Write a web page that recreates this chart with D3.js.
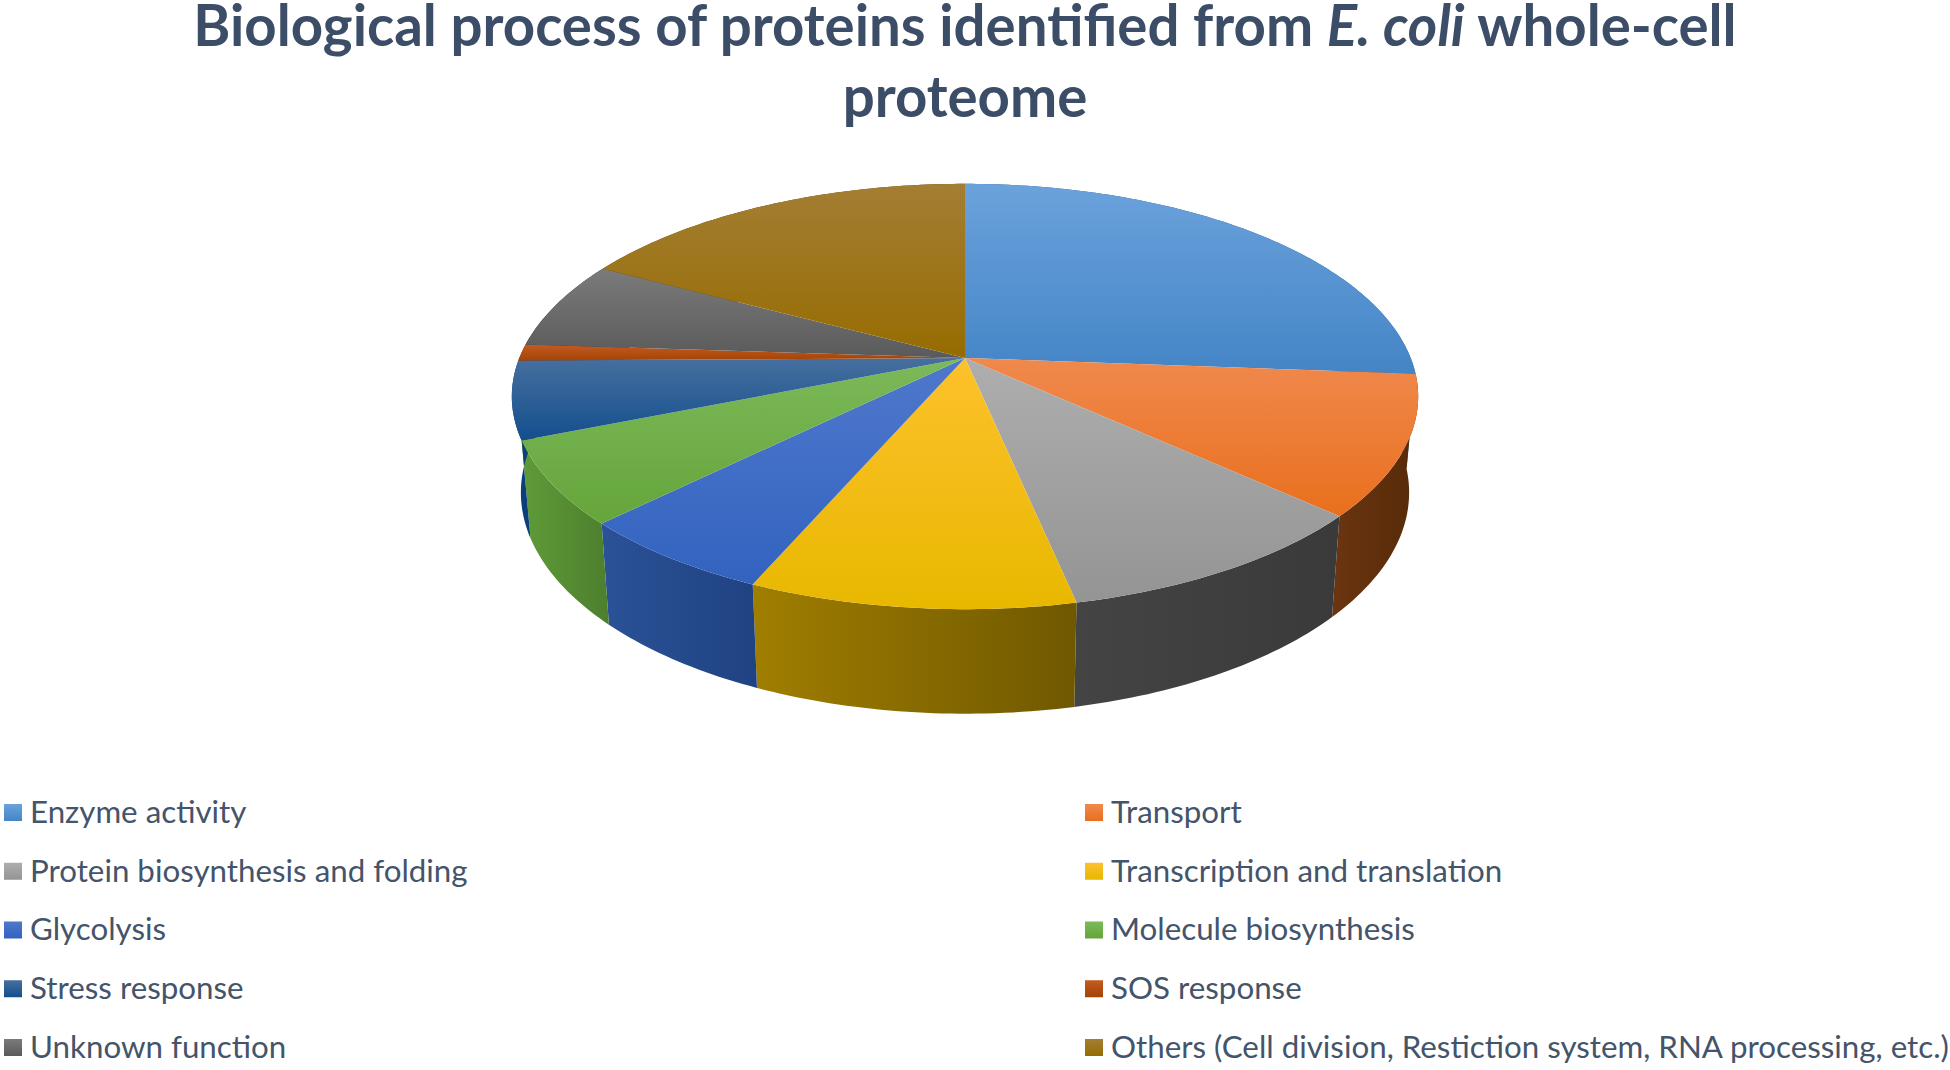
<!DOCTYPE html>
<meta charset="utf-8">
<style>
body { margin: 0; background: #fff; }
text { font-family: Lato, "Noto Sans", sans-serif; fill: #44546a; }
.title { font-size: 56.4px; font-weight: 700; text-anchor: middle; fill: #3c4d68; }
.legend text { font-size: 31.3px; }
</style>
<svg width="1950" height="1070"></svg>
<script src="https://d3js.org/d3.v7.min.js"></script>
<script>

// share of proteins per process (%)
var categories = ["Enzyme activity", "Transport", "Protein biosynthesis and folding",
  "Transcription and translation", "Glycolysis", "Molecule biosynthesis",
  "Stress response", "SOS response", "Unknown function",
  "Others (Cell division, Restiction system, RNA processing, etc.)"];
var values = [26.2, 10.6, 9.9, 9.8, 6.1, 6.3, 5.9, 1.25, 6.75, 17.2];

// top face gradients (light to dark) and side wall gradients (left to right)
var topLight = ["#6ba2dc", "#f0894d", "#aeaeae", "#fdc12c", "#4f78cc", "#7cb95a", "#466f9f", "#c55a22", "#7b7b7b", "#a47e34"];
var topDark = ["#4485c6", "#e96f1d", "#949494", "#e8b800", "#3263bf", "#65a53a", "#134f8d", "#a34406", "#5a5a5a", "#966c00"];
var wallLeft = ["#2a5a88", "#6b3510", "#444444", "#a07e00", "#2b5297", "#5f9b38", "#0a3f7a", "#6b2c04", "#3a3a3a", "#5f4500"];
var wallRight = ["#2a5a88", "#562a08", "#3a3a3a", "#705800", "#1f4282", "#4d7f2e", "#0a3f7a", "#6b2c04", "#3a3a3a", "#5f4500"];

var svg = d3.select("svg"),
    defs = svg.append("defs");

// pie seen in perspective: the disc centre sits above the middle of the ellipse
var cx = 965, cy = 358,
    radiusX = 445.7, radiusY = 205.7,
    persp = 0.181,
    depth = 94.5, depthSlope = 1.04, bottomScale = 0.98;

function topPoint(a) {
  var u = Math.sin(a), v = -Math.cos(a), w = 1 - persp * v;
  return [radiusX * u / w, radiusY * v / w];
}

function bottomPoint(a) {
  var p = topPoint(a);
  return [cx + p[0] * bottomScale, cy + depth + p[1] * depthSlope];
}

function arcAngles(d) {
  var n = Math.max(2, Math.ceil((d.endAngle - d.startAngle) * 60));
  return d3.range(n + 1).map(function(i) {
    return d.startAngle + (d.endAngle - d.startAngle) * i / n;
  });
}

var line = d3.line();

var pie = d3.pie().sort(null).value(function(d) { return d; });
var slices = pie(values);

function gradient(id, x2, y2, from, to) {
  var g = defs.append("linearGradient").attr("id", id)
      .attr("x1", 0).attr("y1", 0).attr("x2", x2).attr("y2", y2);
  g.append("stop").attr("offset", "0%").attr("stop-color", from);
  g.append("stop").attr("offset", "100%").attr("stop-color", to);
}

categories.forEach(function(c, i) {
  gradient("top" + i, 0, 1, topLight[i], topDark[i]);
  gradient("wall" + i, 1, 0, wallLeft[i], wallRight[i]);
});

// walls first, the top face covers whatever faces away
svg.append("g").selectAll("path")
    .data(slices)
  .enter().append("path")
    .attr("fill", function(d) { return "url(#wall" + d.index + ")"; })
    .attr("d", function(d) {
      var angles = arcAngles(d);
      var upper = angles.map(function(a) {
        var p = topPoint(a);
        return [cx + p[0], cy + p[1]];
      });
      var lower = angles.slice().reverse().map(bottomPoint);
      return line(upper.concat(lower)) + "Z";
    });

svg.append("g").selectAll("path")
    .data(slices)
  .enter().append("path")
    .attr("fill", function(d) { return "url(#top" + d.index + ")"; })
    .attr("d", function(d) {
      var pts = arcAngles(d).map(function(a) {
        var p = topPoint(a);
        return [cx + p[0], cy + p[1]];
      });
      return line([[cx, cy]].concat(pts)) + "Z";
    });

// title
var title = svg.append("g");
var first = title.append("text").attr("class", "title").attr("x", 965).attr("y", 46);
first.append("tspan").text("Biological process of proteins identified from ");
first.append("tspan").attr("font-style", "italic").text("E. coli");
first.append("tspan").text(" whole-cell");
title.append("text").attr("class", "title").attr("x", 965).attr("y", 117).text("proteome");

// legend, two columns filled row by row
var rowY = d3.scalePoint().domain(d3.range(5)).range([812, 1047]);
var colX = d3.scalePoint().domain([0, 1]).range([4, 1085]);

var item = svg.append("g").attr("class", "legend").selectAll("g")
    .data(categories)
  .enter().append("g")
    .attr("transform", function(d, i) {
      return "translate(" + colX(i % 2) + "," + rowY(Math.floor(i / 2)) + ")";
    });

item.append("rect")
    .attr("y", -8).attr("width", 18).attr("height", 17)
    .attr("fill", function(d, i) { return "url(#top" + i + ")"; });

item.append("text")
    .attr("x", 26).attr("y", 0).attr("dy", "0.35em")
    .text(function(d) { return d; });

</script>
